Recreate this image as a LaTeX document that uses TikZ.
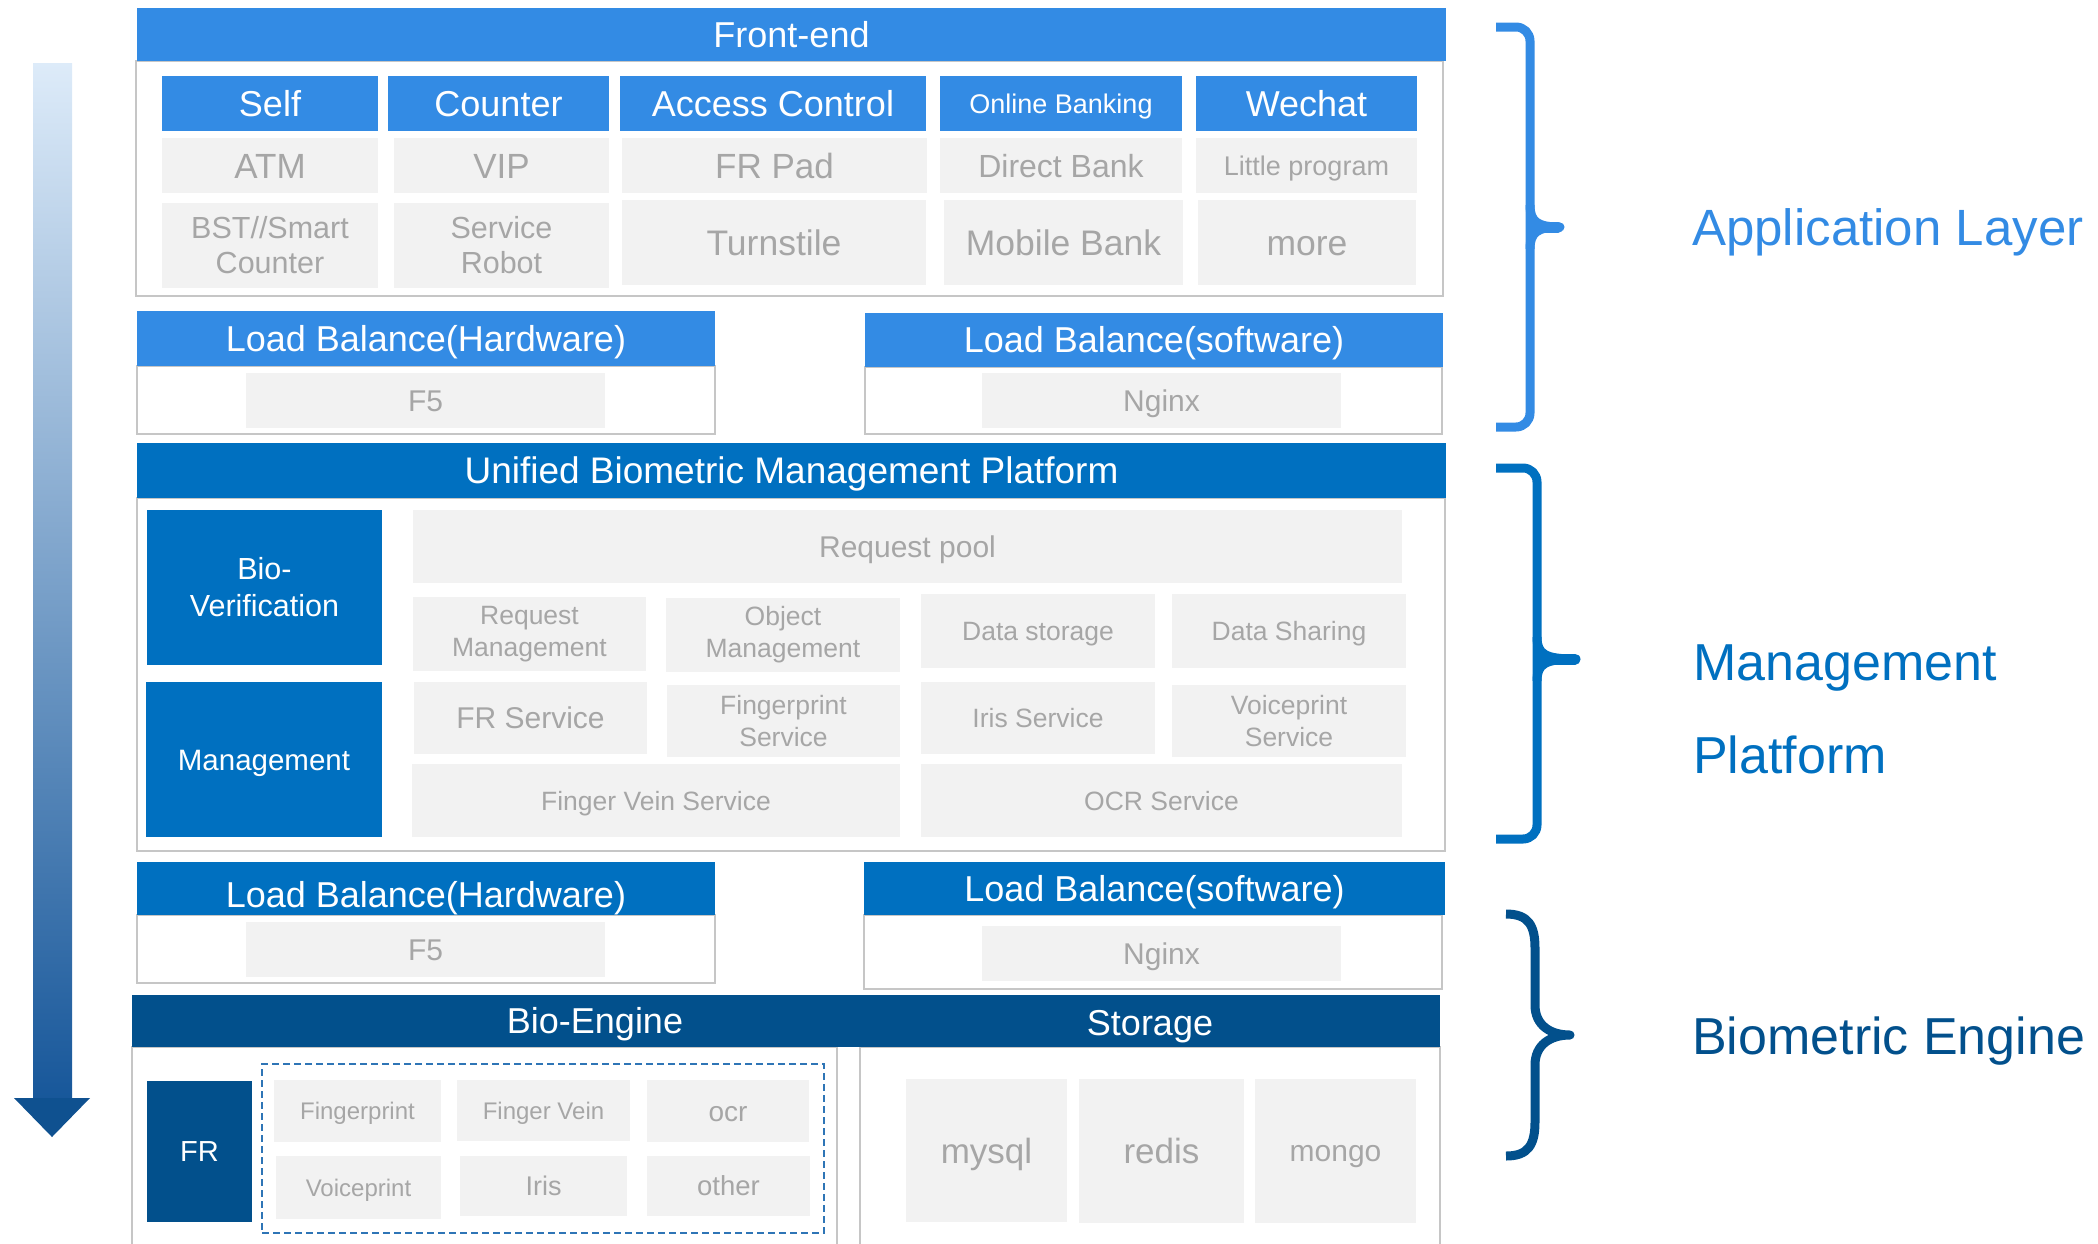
\documentclass[tikz,border=0pt]{standalone}
\usepackage{fontspec}
\setmainfont{Liberation Sans}
\definecolor{fblue}{HTML}{338BE4}
\definecolor{mblue}{HTML}{0070C0}
\definecolor{dblue}{HTML}{02508C}
\definecolor{gfill}{HTML}{F2F2F2}
\definecolor{gtext}{HTML}{A6A6A6}
\definecolor{gline}{HTML}{C6C6C6}
\definecolor{dashcol}{HTML}{2E75B6}
\definecolor{arrtop}{HTML}{DDEBF9}
\definecolor{arrbot}{HTML}{17579A}
\definecolor{arrhead}{HTML}{0F5190}
\newcommand\mkbox[7]{%
  \pgfmathsetmacro\mkcx{(#3+#5)/2}%
  \pgfmathsetmacro\mkcy{(#4+#6)/2}%
  \pgfmathsetmacro\mkw{#5-#3}%
  \pgfmathsetmacro\mkh{#6-#4}%
  \node[#1, minimum width=\mkw pt, minimum height=\mkh pt] (#2) at (\mkcx,\mkcy) {#7};}
\begin{document}
\begin{tikzpicture}[x=1pt,y=-1pt,
  bx/.style={rectangle, inner sep=0pt, outer sep=0pt, align=center},
  ml/.style={yshift=-3pt},
  hdrA/.style={bx, fill=fblue, text=white},
  hdrB/.style={bx, fill=mblue, text=white},
  hdrC/.style={bx, fill=dblue, text=white},
  gbox/.style={bx, fill=gfill, text=gtext},
  cont/.style={bx, draw=gline, line width=2.5pt},
  fs/.style 2 args={font=\fontsize{#1}{#2}\selectfont, text height=0.9*#1 pt, text depth=0.18*#1 pt},
  fsm/.style 2 args={font=\fontsize{#1}{#2}\selectfont},
  brace/.style={line width=9pt, line join=round}]
\useasboundingbox (0,0) rectangle (2098,1243);
\clip (0,0) rectangle (2098,1243);

% gradient arrow
\shade[top color=arrtop, bottom color=arrbot] (33,63) rectangle (72,1100);
\fill[arrhead] (14,1098) -- (90,1098) -- (52,1137) -- cycle;

% ---------- Front-end ----------
\mkbox{cont}{fecont}{136}{61}{1443}{296}{}
\mkbox{hdrA, fs={36}{41}}{frontend}{137}{8}{1446}{61}{Front-end}
\mkbox{hdrA, fs={36}{41}}{self}{162}{76}{378}{131}{Self}
\mkbox{hdrA, fs={36}{41}}{counter}{388}{76}{609}{131}{Counter}
\mkbox{hdrA, fs={36}{41}}{access}{620}{76}{926}{131}{Access Control}
\mkbox{hdrA, fs={27}{31}}{online}{940}{76}{1182}{131}{Online Banking}
\mkbox{hdrA, fs={36}{41}}{wechat}{1196}{76}{1417}{131}{Wechat}
\mkbox{gbox, fs={35}{40}}{atm}{162}{138}{378}{193}{ATM}
\mkbox{gbox, fs={35}{40}}{vip}{394}{138}{609}{193}{VIP}
\mkbox{gbox, fs={35}{40}}{frpad}{622}{138}{927}{193}{FR Pad}
\mkbox{gbox, fs={32}{37}}{direct}{940}{138}{1182}{193}{Direct Bank}
\mkbox{gbox, fs={27}{31}}{little}{1196}{138}{1417}{193}{Little program}
\mkbox{gbox, ml, fsm={30.5}{35}}{bst}{162}{200}{378}{285}{BST//Smart\\Counter}
\mkbox{gbox, ml, fsm={30.5}{35}}{robot}{394}{200}{609}{285}{Service\\Robot}
\mkbox{gbox, fs={35.5}{40}}{turn}{622}{200}{926}{285}{Turnstile}
\mkbox{gbox, fs={35.5}{40}}{mobile}{944}{200}{1183}{285}{Mobile Bank}
\mkbox{gbox, fs={35.5}{40}}{more}{1198}{200}{1416}{285}{more}

% ---------- Load balance 1 ----------
\mkbox{cont}{lbhacont}{137}{366}{715}{434}{}
\mkbox{hdrA, fs={36}{41}}{lbha}{137}{311}{715}{366}{Load Balance(Hardware)}
\mkbox{gbox, fs={30}{35}}{ffa}{246}{373}{605}{428}{F5}
\mkbox{cont}{lbsacont}{865}{367}{1442}{434}{}
\mkbox{hdrA, fs={36}{41}}{lbsa}{865}{313}{1443}{367}{Load Balance(software)}
\mkbox{gbox, fs={30}{35}}{nginxa}{982}{373}{1341}{428}{Nginx}

% ---------- Unified platform ----------
\mkbox{cont}{ubcont}{137}{498}{1445}{851}{}
\mkbox{hdrB, fs={37}{42}}{ubmp}{137}{443}{1446}{498}{Unified Biometric Management Platform}
\mkbox{hdrB, fsm={30.5}{37}}{biover}{147}{510}{382}{665}{Bio-\\Verification}
\mkbox{hdrB, fs={29.5}{34}}{mgmt}{146}{682}{382}{837}{Management}
\mkbox{gbox, fs={30}{35}}{pool}{413}{510}{1402}{583}{Request pool}
\mkbox{gbox, ml, fsm={26.5}{32}}{reqm}{413}{594}{646}{668}{Request\\Management}
\mkbox{gbox, ml, fsm={26.5}{32}}{objm}{666}{595}{900}{669}{Object\\Management}
\mkbox{gbox, fs={26.5}{32}}{dstore}{921}{594}{1155}{668}{Data storage}
\mkbox{gbox, fs={26.5}{32}}{dshare}{1172}{594}{1406}{668}{Data Sharing}
\mkbox{gbox, fs={30}{35}}{frsvc}{414}{682}{647}{754}{FR Service}
\mkbox{gbox, ml, fsm={26.5}{32}}{fpsvc}{667}{682}{900}{754}{Fingerprint\\Service}
\mkbox{gbox, fs={26.5}{32}}{irissvc}{921}{682}{1155}{754}{Iris Service}
\mkbox{gbox, ml, fsm={26.5}{32}}{vpsvc}{1172}{682}{1406}{754}{Voiceprint\\Service}
\mkbox{gbox, fs={26.5}{32}}{fvsvc}{412}{764}{900}{837}{Finger Vein Service}
\mkbox{gbox, fs={26.5}{32}}{ocrsvc}{921}{764}{1402}{837}{OCR Service}

% ---------- Load balance 2 ----------
\mkbox{cont}{lbhbcont}{137}{915}{715}{983}{}
\mkbox{hdrB}{lbhb}{137}{862}{715}{915}{}
\node[text=white, fs={36}{41}, inner sep=0pt] (lbhbtext) at (426,895) {Load Balance(Hardware)};
\mkbox{gbox, fs={30}{35}}{ffb}{246}{922}{605}{977}{F5}
\mkbox{cont}{lbsbcont}{864}{915}{1442}{989}{}
\mkbox{hdrB, fs={36}{41}}{lbsb}{864}{862}{1445}{915}{Load Balance(software)}
\mkbox{gbox, fs={30}{35}}{nginxb}{982}{926}{1341}{981}{Nginx}

% ---------- Bio-Engine / Storage ----------
\mkbox{cont}{becont}{132}{1047}{837}{1270}{}
\mkbox{cont}{stcont}{860}{1047}{1440}{1270}{}
\mkbox{hdrC}{beband}{132}{995}{1440}{1047}{}
\node[text=white, fs={36}{41}, inner sep=0pt] (bioeng) at (595,1021) {Bio-Engine};
\node[text=white, fs={36}{41}, inner sep=0pt] (storage) at (1150,1023) {Storage};
\mkbox{hdrC, fs={29}{34}}{fr}{147}{1081}{252}{1222}{FR}
\mkbox{bx, draw=dashcol, line width=2pt, dash pattern=on 7pt off 4pt}{engines}{262}{1064}{824}{1233}{}
\mkbox{gbox, fs={24}{28}}{fp}{274}{1080}{441}{1142}{Fingerprint}
\mkbox{gbox, fs={24}{28}}{fv}{457}{1080}{630}{1141}{Finger Vein}
\mkbox{gbox, fs={28}{32}}{ocr}{647}{1080}{809}{1142}{ocr}
\mkbox{gbox, fs={24}{28}}{vp}{276}{1156}{441}{1219}{Voiceprint}
\mkbox{gbox, fs={27}{31}}{iris}{460}{1156}{627}{1216}{Iris}
\mkbox{gbox, fs={27.5}{32}}{other}{647}{1156}{810}{1216}{other}
\mkbox{gbox, fs={35}{40}}{mysql}{906}{1079}{1067}{1222}{mysql}
\mkbox{gbox, fs={35}{40}}{redis}{1079}{1079}{1244}{1223}{redis}
\mkbox{gbox, fs={30}{35}}{mongo}{1255}{1079}{1416}{1223}{mongo}

% ---------- Braces ----------
\draw[fblue, brace, rounded corners=14pt] (1496,27) -- (1530,27) -- (1530,427) -- (1496,427);
\draw[fblue, brace] (1530,205) .. controls (1530,222) and (1538,227) .. (1560,227)
  .. controls (1538,227) and (1530,232) .. (1530,249);
\draw[fblue, line width=11pt, line cap=round] (1532,227) -- (1558,227);
\draw[mblue, brace, rounded corners=14pt] (1496,468) -- (1537,468) -- (1537,839) -- (1496,839);
\draw[mblue, brace] (1537,637) .. controls (1537,654) and (1545,659) .. (1575,659)
  .. controls (1545,659) and (1537,664) .. (1537,681);
\draw[mblue, line width=11pt, line cap=round] (1539,659) -- (1575,659);
\draw[dblue, brace] (1506,914) .. controls (1528,914) and (1535,925) .. (1535,948)
  -- (1535,1005) .. controls (1535,1025) and (1550,1035) .. (1570,1035)
  .. controls (1550,1035) and (1535,1045) .. (1535,1065)
  -- (1535,1122) .. controls (1535,1145) and (1528,1156) .. (1506,1156);

% ---------- Layer labels ----------
\node[anchor=base west, inner sep=0pt, text=fblue, fsm={51}{58}] (applayer) at (1692,245) {Application Layer};
\node[anchor=base west, inner sep=0pt, text=mblue, fsm={52}{58}] (mgmtlabel) at (1693,680) {Management};
\node[anchor=base west, inner sep=0pt, text=mblue, fsm={52}{58}] (platlabel) at (1693,773) {Platform};
\node[anchor=base west, inner sep=0pt, text=dblue, fsm={52}{58}] (belabel) at (1692,1054) {Biometric Engine};
\end{tikzpicture}
\end{document}
